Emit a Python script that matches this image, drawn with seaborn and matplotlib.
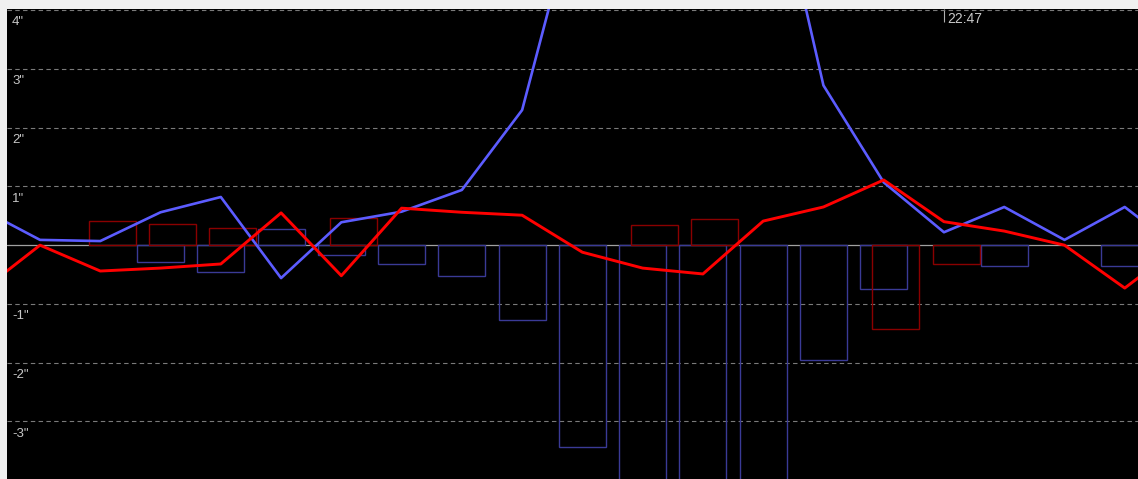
import numpy as np
import pandas as pd
import matplotlib
matplotlib.use("Agg")
import matplotlib.pyplot as plt
import seaborn as sns

# ---- data ----
steps = list(range(-1, 20))
red_line = [-0.80, 0.00, -0.44, -0.39, -0.32, 0.55, -0.52, 0.63, 0.56, 0.51, -0.12,
            -0.39, -0.49, 0.41, 0.65, 1.11, 0.40, 0.24, 0.00, -0.73, 0.05]
blue_line = [0.63, 0.09, 0.07, 0.56, 0.82, -0.56, 0.39, 0.57, 0.94, 2.30, 6.2,
             8.5, 8.5, 7.2, 2.72, 1.07, 0.22, 0.65, 0.09, 0.65, -0.14]

bar_steps = list(range(0, 19))
blue_bars = [0, 0, -0.29, -0.46, 0.27, -0.17, -0.32, -0.53, -1.28, -3.43, -5.5,
             -6.0, -5.5, -1.95, -0.75, 0, -0.36, 0, -0.36]
red_bars = [0, 0.41, 0.36, 0.29, 0, 0.46, 0, 0, 0, 0, 0.34,
            0.45, 0, 0, -1.43, -0.32, 0, 0, 0]

y_ticks = [4, 3, 2, 1, -1, -2, -3]
y_tick_labels = ['4"', '3"', '2"', '1"', '-1"', '-2"', '-3"']
time_tick = 15
time_label = "22:47"

# ---- style ----
sns.set_style("dark")
plt.rcParams['font.family'] = ['Liberation Sans', 'DejaVu Sans']

W, H = 1138, 479
fig = plt.figure(figsize=(W / 100, H / 100), dpi=100, facecolor='#f0f0f0')
ax = fig.add_axes([7 / W, 0, 1 - 7 / W, 1 - 9 / H])
ax.set_facecolor('black')

lines_df = pd.DataFrame({"step": steps, "red": red_line, "blue": blue_line})
bars_df = pd.DataFrame({"step": bar_steps, "blue": blue_bars, "red": red_bars})

# zero line
ax.axhline(0, color='#a0a0a0', lw=0.9, zorder=1)

# bars (outlined)
bw = 0.78
b = bars_df[bars_df["blue"] != 0]
ax.bar(b["step"], b["blue"], width=bw, fill=False, edgecolor='#3a3a96',
       linewidth=1.0, zorder=2)
r = bars_df[bars_df["red"] != 0]
ax.bar(r["step"] + 0.2, r["red"], width=bw, fill=False, edgecolor='#8a0000',
       linewidth=1.0, zorder=2)

# lines
sns.lineplot(data=lines_df, x="step", y="blue", ax=ax, color='#5c5cff',
             linewidth=1.9, errorbar=None, zorder=3)
sns.lineplot(data=lines_df, x="step", y="red", ax=ax, color='#ff0000',
             linewidth=2.1, errorbar=None, zorder=4)

ax.set_xlim(-0.548, 18.22)
ax.set_ylim(-3.98, 4.02)
ax.set_xlabel("")
ax.set_ylabel("")

# grid
ax.set_yticks(y_ticks)
ax.yaxis.grid(True, color='#7a7a7a', linestyle=(0, (4, 3)), linewidth=0.8)
ax.xaxis.grid(False)
ax.tick_params(axis='y', length=0, labelleft=False)
ax.xaxis.tick_top()
ax.set_xticks([time_tick])
ax.tick_params(axis='x', direction='in', length=9.5, color='#b0b0b0', width=0.8,
               labeltop=False, labelbottom=False)
for s in ax.spines.values():
    s.set_visible(False)

for v, lab in zip(y_ticks, y_tick_labels):
    ax.annotate(lab, xy=(0, v), xycoords=('axes fraction', 'data'),
                xytext=(3.6, -4.5), textcoords='offset points', ha='left', va='top',
                color='#c8c8c8', fontsize=9.5)

ax.annotate(time_label, xy=(time_tick, 1), xycoords=('data', 'axes fraction'),
            xytext=(2.2, -2.5), textcoords='offset points', ha='left', va='top',
            color='#c8c8c8', fontsize=10)

fig.savefig("out.png", dpi=100, facecolor=fig.get_facecolor())
